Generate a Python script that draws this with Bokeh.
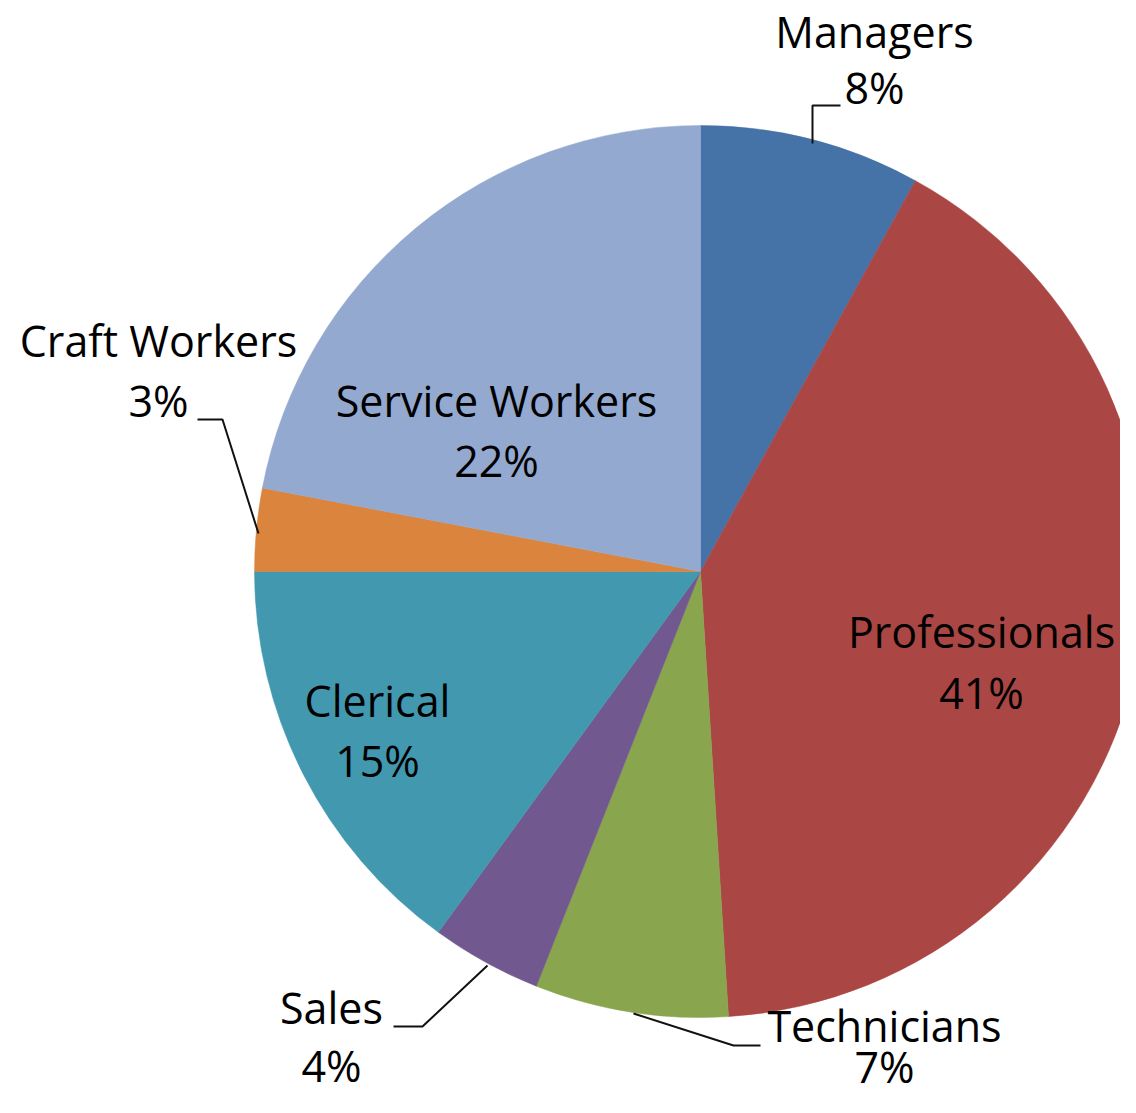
import math
from bokeh.plotting import figure
from bokeh.models import Range1d, ColumnDataSource
from bokeh.core.properties import value
from bokeh.embed import file_html
from bokeh.resources import INLINE

# ---- data ----
categories = ["Managers", "Professionals", "Technicians", "Sales",
              "Clerical", "Craft Workers", "Service Workers"]
percents = [8, 41, 7, 4, 15, 3, 22]
colors = ["#4572A7", "#AA4643", "#89A54E", "#71588F",
          "#4198AF", "#DB843D", "#93A9CF"]

# ---- layout (reference pixel coordinates; y grows downward) ----
CX, CY, R = 700, 571, 446
# label centre x, baseline of name line, baseline of percent line
label_pos = [(874, 48, 104), (981, 648, 709), (884, 1042, 1083),
             (331, 1024, 1082), (377, 717, 777), (158, 357, 417),
             (496, 417, 477)]
BASELINE_SHIFT = 17  # svg text renders below the requested alphabetic baseline
leaders = {
    "Managers": [(812, 143), (812, 105), (840, 105)],
    "Technicians": [(633, 1013), (733, 1045), (760, 1045)],
    "Sales": [(487, 965), (422, 1026), (393, 1026)],
    "Craft Workers": [(258, 533), (222, 419), (197, 419)],
}

W, H = 1120, 1097
p = figure(width=W, height=H, output_backend="svg", toolbar_location=None,
           x_range=Range1d(0, W), y_range=Range1d(-H, 0),
           min_border=0)
p.axis.visible = False
p.grid.visible = False
p.outline_line_color = None
p.background_fill_color = "white"

total = float(sum(percents))
starts, ends = [], []
cum = 0.0
for v in percents:
    starts.append(math.pi / 2 - 2 * math.pi * cum / total)
    cum += v
    ends.append(math.pi / 2 - 2 * math.pi * cum / total)

src = ColumnDataSource(dict(start=starts, end=ends, color=colors))
p.wedge(x=CX, y=-CY, radius=R, start_angle="start", end_angle="end",
        direction="clock", fill_color="color", line_color="color",
        line_width=0.5, source=src)

for name, pts in leaders.items():
    p.line([q[0] for q in pts], [-q[1] for q in pts],
           line_color="#111111", line_width=2)

tx, ty, tt = [], [], []
for name, v, (lx, ly1, ly2) in zip(categories, percents, label_pos):
    tx += [lx, lx]
    ty += [-(ly1 - BASELINE_SHIFT), -(ly2 - BASELINE_SHIFT)]
    tt += [name, f"{v}%"]

p.text(x=tx, y=ty, text=tt, text_align="center", text_baseline="alphabetic",
       text_font=value("Open Sans"), text_font_size="43px",
       text_color="#000000")

open("out.html", "w").write(file_html(p, INLINE))
